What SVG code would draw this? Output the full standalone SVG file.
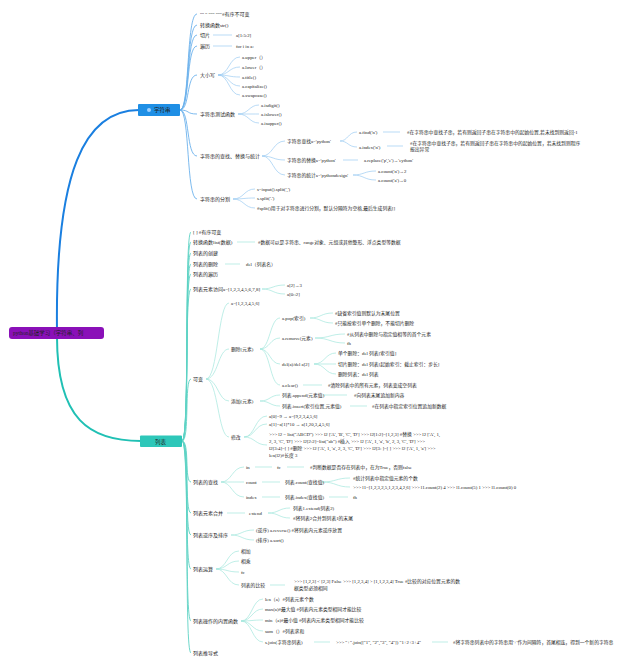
<svg xmlns="http://www.w3.org/2000/svg" width="640" height="667" viewBox="0 0 640 667">
<style>
.t{font-family:"Liberation Serif","Noto Sans CJK SC",serif;font-size:4.8px;fill:#222}
.h{font-size:5px}
.sb{fill:none;stroke:#9ccbf2;stroke-width:0.7}
.sb1{fill:none;stroke:#6db2ec;stroke-width:0.9}
.lb{fill:none;stroke:#a3e6dd;stroke-width:0.7}
.lb1{fill:none;stroke:#5ed2c4;stroke-width:0.9}
</style>
<rect width="640" height="667" fill="#ffffff"/>
<g id="connectors">
<path d="M57,331 C55,170 85,110 139,110" fill="none" stroke="#1a7fe0" stroke-width="2"/>
<path d="M57,337 C57,420 90,441 141,441" fill="none" stroke="#20c0b4" stroke-width="2"/>
<g class="sb1">
<path d="M180,110 C190,110 186,14 197,14"/>
<path d="M180,110 C190,110 186,25 197,25"/>
<path d="M180,110 C190,110 186,35 197,35"/>
<path d="M180,110 C190,110 186,46 197,46"/>
<path d="M180,110 C190,110 186,75 197,75"/>
<path d="M180,110 C190,110 186,114 197,114"/>
<path d="M180,110 C190,110 186,156 197,156"/>
<path d="M180,110 C190,110 186,199 197,199"/>
</g>
<g class="sb">
<path d="M213,35 L232,35"/>
<path d="M213,46 L232,46"/>
<path d="M218,75 C229,75 229,57 240,57"/>
<path d="M218,75 C229,75 229,67 240,67"/>
<path d="M218,75 C229,75 229,77 240,77"/>
<path d="M218,75 C229,75 229,86 240,86"/>
<path d="M218,75 C229,75 229,95 240,95"/>
<path d="M238,114 C249,114 249,105 259,105"/>
<path d="M238,114 C249,114 249,114 259,114"/>
<path d="M238,114 C249,114 249,123 259,123"/>
<path d="M262,156 C273,156 273,141 285,141"/>
<path d="M262,156 C273,156 273,160 285,160"/>
<path d="M262,156 C273,156 273,175 285,175"/>
<path d="M340,141 C348,141 348,132 357,132"/>
<path d="M340,141 C348,141 348,147 357,147"/>
<path d="M383,132 L400,132"/>
<path d="M387,146 L403,146"/>
<path d="M343,160 L358,160"/>
<path d="M353,175 C364,175 364,171 376,171"/>
<path d="M353,175 C364,175 364,180 376,180"/>
<path d="M233,199 C244,199 244,189 255,189"/>
<path d="M233,199 C244,199 244,198 255,198"/>
<path d="M233,199 C244,199 244,208 255,208"/>
</g>
<g class="lb1">
<path d="M182,441 C190,441 184,232 191,232"/>
<path d="M182,441 C190,441 184,242 191,242"/>
<path d="M182,441 C190,441 184,253 191,253"/>
<path d="M182,441 C190,441 184,264 191,264"/>
<path d="M182,441 C190,441 184,274 191,274"/>
<path d="M182,441 C190,441 184,289 191,289"/>
<path d="M182,441 C190,441 184,379 191,379"/>
<path d="M182,441 C190,441 184,482 191,482"/>
<path d="M182,441 C190,441 184,513 191,513"/>
<path d="M182,441 C190,441 184,535 191,535"/>
<path d="M182,441 C190,441 184,569 191,569"/>
<path d="M182,441 C190,441 184,621 191,621"/>
<path d="M182,441 C190,441 184,653 191,653"/>
</g>
<g class="lb">
<path d="M237,242 L255,242"/>
<path d="M225,264 L240,264"/>
<path d="M262,289 C273,289 273,285 285,285"/>
<path d="M262,289 C273,289 273,294 285,294"/>
<path d="M206,379 C218,379 218,303 229,303"/>
<path d="M206,379 C218,379 218,349 229,349"/>
<path d="M206,379 C218,379 218,401 229,401"/>
<path d="M206,379 C218,379 218,437 229,437"/>
<path d="M260,349 C270,349 270,318 280,318"/>
<path d="M260,349 C270,349 270,338 280,338"/>
<path d="M260,349 C270,349 270,364 280,364"/>
<path d="M260,349 C270,349 270,385 280,385"/>
<path d="M310,318 C321,318 321,313 333,313"/>
<path d="M310,318 C321,318 321,323 333,323"/>
<path d="M315,338 C330,338 330,334 345,334"/>
<path d="M315,338 C330,338 330,343 345,343"/>
<path d="M314,364 C325,364 325,353 336,353"/>
<path d="M314,364 C325,364 325,364 336,364"/>
<path d="M314,364 C325,364 325,374 336,374"/>
<path d="M303,385 L322,385"/>
<path d="M260,401 C270,401 270,395 280,395"/>
<path d="M260,401 C270,401 270,406 280,406"/>
<path d="M323,395 L347,395"/>
<path d="M350,406 L367,406"/>
<path d="M244,437 C255,437 255,416 267,416"/>
<path d="M244,437 C255,437 255,424 267,424"/>
<path d="M244,437 C255,437 255,445 267,445"/>
<path d="M221,482 C232,482 232,467 244,467"/>
<path d="M221,482 C232,482 232,482 244,482"/>
<path d="M221,482 C232,482 232,497 244,497"/>
<path d="M255,467 L272,467"/>
<path d="M287,467 L304,467"/>
<path d="M262,482 L280,482"/>
<path d="M322,482 C336,482 336,478 350,478"/>
<path d="M322,482 C336,482 336,487 350,487"/>
<path d="M262,497 L280,497"/>
<path d="M329,497 L348,497"/>
<path d="M227,513 L245,513"/>
<path d="M268,513 C279,513 279,508 290,508"/>
<path d="M268,513 C279,513 279,518 290,518"/>
<path d="M231,535 C242,535 242,530 254,530"/>
<path d="M231,535 C242,535 242,540 254,540"/>
<path d="M216,569 C227,569 227,551 239,551"/>
<path d="M216,569 C227,569 227,561 239,561"/>
<path d="M216,569 C227,569 227,572 239,572"/>
<path d="M216,569 C227,569 227,585 239,585"/>
<path d="M270,585 L285,585"/>
<path d="M241,621 C252,621 252,599 263,599"/>
<path d="M241,621 C252,621 252,609 263,609"/>
<path d="M241,621 C252,621 252,620 263,620"/>
<path d="M241,621 C252,621 252,631 263,631"/>
<path d="M241,621 C252,621 252,642 263,642"/>
<path d="M314,642 L330,642"/>
<path d="M432,642 L448,642"/>
</g>
</g>
<g id="root">
<rect x="9" y="327" width="95" height="12" rx="3" fill="#8a10b8"/>
<text x="13" y="335" class="t" style="font-size:5.5px">python基础学习（字符串、列</text>
</g>
<g id="string">
<rect x="138" y="104" width="42" height="12" rx="1" fill="#1f8fe5"/>
<circle cx="149" cy="110" r="2" fill="#9fd0ff"/>
<text x="154" y="112" class="t" style="font-size:5.5px">字符串</text>
</g>
<g id="list">
<rect x="140" y="435.5" width="42" height="11.5" rx="1" fill="#2ec7b9"/>
<text x="155" y="443.5" class="t" style="font-size:5.5px">列表</text>
</g>
<g id="s1"><text x="200" y="15.7" class="t h">"" '' """ """#有序不可变</text></g>
<g id="s2"><text x="200" y="26.7" class="t h">转换函数str()</text></g>
<g id="s3"><text x="200" y="36.7" class="t h">切片</text><text x="236" y="36.7" class="t">a[1:5:2]</text></g>
<g id="s4"><text x="200" y="47.7" class="t h">遍历</text><text x="236" y="47.7" class="t">for i in a:</text></g>
<g id="s5"><text x="200" y="76.7" class="t h">大小写</text>
<text x="242" y="58.7" class="t">a.upper（）</text>
<text x="242" y="68.7" class="t">a.lower（）</text>
<text x="242" y="78.7" class="t">a.title()</text>
<text x="242" y="87.7" class="t">a.capitalize()</text>
<text x="242" y="96.7" class="t">a.swapcase()</text></g>
<g id="s6"><text x="200" y="115.7" class="t h">字符串测试函数</text>
<text x="261" y="106.7" class="t">a.isdigit()</text>
<text x="261" y="115.7" class="t">a.islower()</text>
<text x="261" y="124.7" class="t">a.isupper()</text></g>
<g id="s7"><text x="200" y="157.7" class="t h">字符串的查找、替换与统计</text></g>
<g id="s7a"><text x="287" y="142.7" class="t">字符串查找a='python'</text>
<text x="359" y="133.7" class="t">a.find('n')</text>
<text x="407" y="133.7" class="t">#在字符串中查找子串，若有则返回子串在字符串中的起始位置,若未找到则返回-1</text>
<text x="359" y="148.7" class="t">a.index('n')</text>
<text x="410" y="144.7" class="t">#在字符串中查找子串，若有则返回子串在字符串中的起始位置，若未找到则程序</text>
<text x="410" y="151.2" class="t">报出异常</text></g>
<g id="s7b"><text x="287" y="161.7" class="t">字符串的替换a='python'</text>
<text x="364" y="161.7" class="t">a.replace('p','e')→'eython'</text></g>
<g id="s7c"><text x="287" y="176.7" class="t">字符串的统计a='pythondesign'</text>
<text x="378" y="172.7" class="t">a.count('n')→2</text>
<text x="378" y="181.7" class="t">a.count('a')→0</text></g>
<g id="s8"><text x="200" y="200.7" class="t h">字符串的分割</text>
<text x="257" y="190.7" class="t">s=input().split(',')</text>
<text x="257" y="199.7" class="t">s.split('.')</text>
<text x="257" y="209.7" class="t">#split()用于对字符串进行分割，默认分隔符为空格,最后生成列表[]</text></g>
<g id="l1"><text x="193" y="233.7" class="t h">[ ] #有序可变</text></g>
<g id="l2"><text x="193" y="243.7" class="t h">转换函数list(数据)</text>
<text x="258" y="244.2" class="t">#数据可以是字符串、range对象、元组或其他整形、浮点类型等数据</text></g>
<g id="l3"><text x="193" y="254.7" class="t h">列表的创建</text></g>
<g id="l4"><text x="193" y="265.7" class="t h">列表的删除</text><text x="246" y="265.7" class="t">del（列表名）</text></g>
<g id="l5"><text x="193" y="275.7" class="t h">列表的遍历</text></g>
<g id="l6"><text x="193" y="290.7" class="t h">列表元素访问a=[1,2,3,4,5,6,7,8]</text>
<text x="287" y="286.7" class="t">a[2]→3</text>
<text x="287" y="295.7" class="t">a[0::2]</text></g>
<g id="l7"><text x="193" y="380.7" class="t h">可变</text>
<text x="231" y="304.7" class="t">a=[1,2,3,4,5,6]</text></g>
<g id="l7del"><text x="231" y="350.7" class="t">删除(元素)</text>
<text x="282" y="319.7" class="t">a.pop(索引)</text>
<text x="335" y="314.7" class="t">#缺省索引值则默认为末尾位置</text>
<text x="335" y="324.7" class="t">#只能按索引单个删除，不能切片删除</text>
<text x="282" y="339.7" class="t">a.remove(元素)</text>
<text x="347" y="335.7" class="t">#从列表中删除与指定值相等的首个元素</text>
<text x="347" y="344.7" class="t">fh</text>
<text x="282" y="365.7" class="t">del(a)/del a[2]</text>
<text x="338" y="354.7" class="t">单个删除：del 列表[索引值]</text>
<text x="338" y="365.7" class="t">切片删除：del 列表[起始索引：截止索引：步长]</text>
<text x="338" y="375.7" class="t">删除列表：del 列表</text>
<text x="282" y="386.7" class="t">a.clear()</text>
<text x="328" y="386.7" class="t">#清除列表中的所有元素，列表变成空列表</text></g>
<g id="l7add"><text x="231" y="402.7" class="t">添加(元素)</text>
<text x="282" y="396.7" class="t">列表.append(元素值)</text>
<text x="354" y="396.7" class="t">#向列表末尾追加新内容</text>
<text x="282" y="407.7" class="t">列表.insert(索引位置,元素值)</text>
<text x="372" y="407.7" class="t">#在列表中指定索引位置追加新数据</text></g>
<g id="l7mod"><text x="231" y="438.7" class="t">修改</text>
<text x="269" y="417.7" class="t">a[0]=9 → a=[9,2,3,4,5,6]</text>
<text x="269" y="425.7" class="t">a[1]=a[1]*10 → a[1,20,3,4,5,6]</text>
<text x="269" y="435.7" class="t">&gt;&gt;&gt; l2 = list("ABCD") &gt;&gt;&gt; l2 ['A', 'B', 'C', 'D'] &gt;&gt;&gt; l2[1:2]=[1,2,3] #替换 &gt;&gt;&gt; l2 ['A', 1,</text>
<text x="269" y="442.7" class="t">2, 3, 'C', 'D'] &gt;&gt;&gt; l2[2:2]=list("ab") #插入 &gt;&gt;&gt; l2 ['A', 1, 'a', 'b', 2, 3, 'C', 'D'] &gt;&gt;&gt;</text>
<text x="269" y="449.7" class="t">l2[3:4]=[ ] #删除 &gt;&gt;&gt; l2 ['A', 1, 'a', 2, 3, 'C', 'D'] &gt;&gt;&gt; l2[3: ]=[ ] &gt;&gt;&gt; l2 ['A', 1, 'a'] &gt;&gt;&gt;</text>
<text x="269" y="456.7" class="t">len(l2)#长度 3</text></g>
<g id="l8"><text x="193" y="483.7" class="t h">列表的查找</text>
<text x="246" y="468.7" class="t">in</text>
<text x="277" y="468.7" class="t">fc</text>
<text x="310" y="468.7" class="t">#判断数据是否存在列表中，在为True，否则false</text>
<text x="246" y="483.7" class="t">count</text>
<text x="285" y="483.7" class="t">列表.count(查找值)</text>
<text x="353" y="479.7" class="t">#统计列表中指定值元素的个数</text>
<text x="353" y="488.7" class="t">&gt;&gt;&gt; l1=[1,2,3,2,5,1,2,3,4,2,6] &gt;&gt;&gt; l1.count(2) 4 &gt;&gt;&gt; l1.count(5) 1 &gt;&gt;&gt; l1.count(0) 0</text>
<text x="246" y="498.7" class="t">index</text>
<text x="285" y="498.7" class="t">列表.index(查找值)</text>
<text x="353" y="498.7" class="t">fh</text></g>
<g id="l9"><text x="193" y="514.7" class="t h">列表元素合并</text>
<text x="249" y="514.7" class="t">extend</text>
<text x="293" y="509.7" class="t">列表1.extend(列表2)</text>
<text x="293" y="519.7" class="t">#将列表2合并到列表1的末尾</text></g>
<g id="l10"><text x="193" y="536.7" class="t h">列表逆序及排序</text>
<text x="256" y="531.7" class="t">(逆序) a.reverse() #将列表内元素逆序放置</text>
<text x="256" y="541.7" class="t">(排序) a.sort()</text></g>
<g id="l11"><text x="193" y="570.7" class="t h">列表运算</text>
<text x="241" y="552.7" class="t">相加</text>
<text x="241" y="562.7" class="t">相乘</text>
<text x="241" y="573.7" class="t">fc</text>
<text x="241" y="586.7" class="t">列表的比较</text>
<text x="294" y="583.2" class="t">&gt;&gt;&gt; [1,2,3] &lt; [2,3] False &gt;&gt;&gt; [1,2,3,4] &gt; [1,1,2,3,4] True #比较的对应位置元素的数</text>
<text x="294" y="590.2" class="t">据类型必须相同</text></g>
<g id="l12"><text x="193" y="622.7" class="t h">列表操作的内置函数</text>
<text x="265" y="600.7" class="t">len（a）#列表元素个数</text>
<text x="265" y="610.7" class="t">max(a)#最大值 #列表内元素类型相同才能比较</text>
<text x="265" y="621.7" class="t">min（a)#最小值 #列表内元素类型相同才能比较</text>
<text x="265" y="632.7" class="t">sum（）#列表求和</text>
<text x="265" y="643.7" class="t">s.join(字符串列表)</text>
<text x="336" y="643.7" class="t">&gt;&gt;&gt; "+".join(["1", "2","3", "4"]) "1+2+3+4"</text>
<text x="453" y="643.7" class="t">#将字符串列表中的字符串用'+'作为间隔符，首尾相连，得到一个新的字符串</text></g>
<g id="l13"><text x="193" y="654.7" class="t h">列表推导式</text></g>
</svg>
